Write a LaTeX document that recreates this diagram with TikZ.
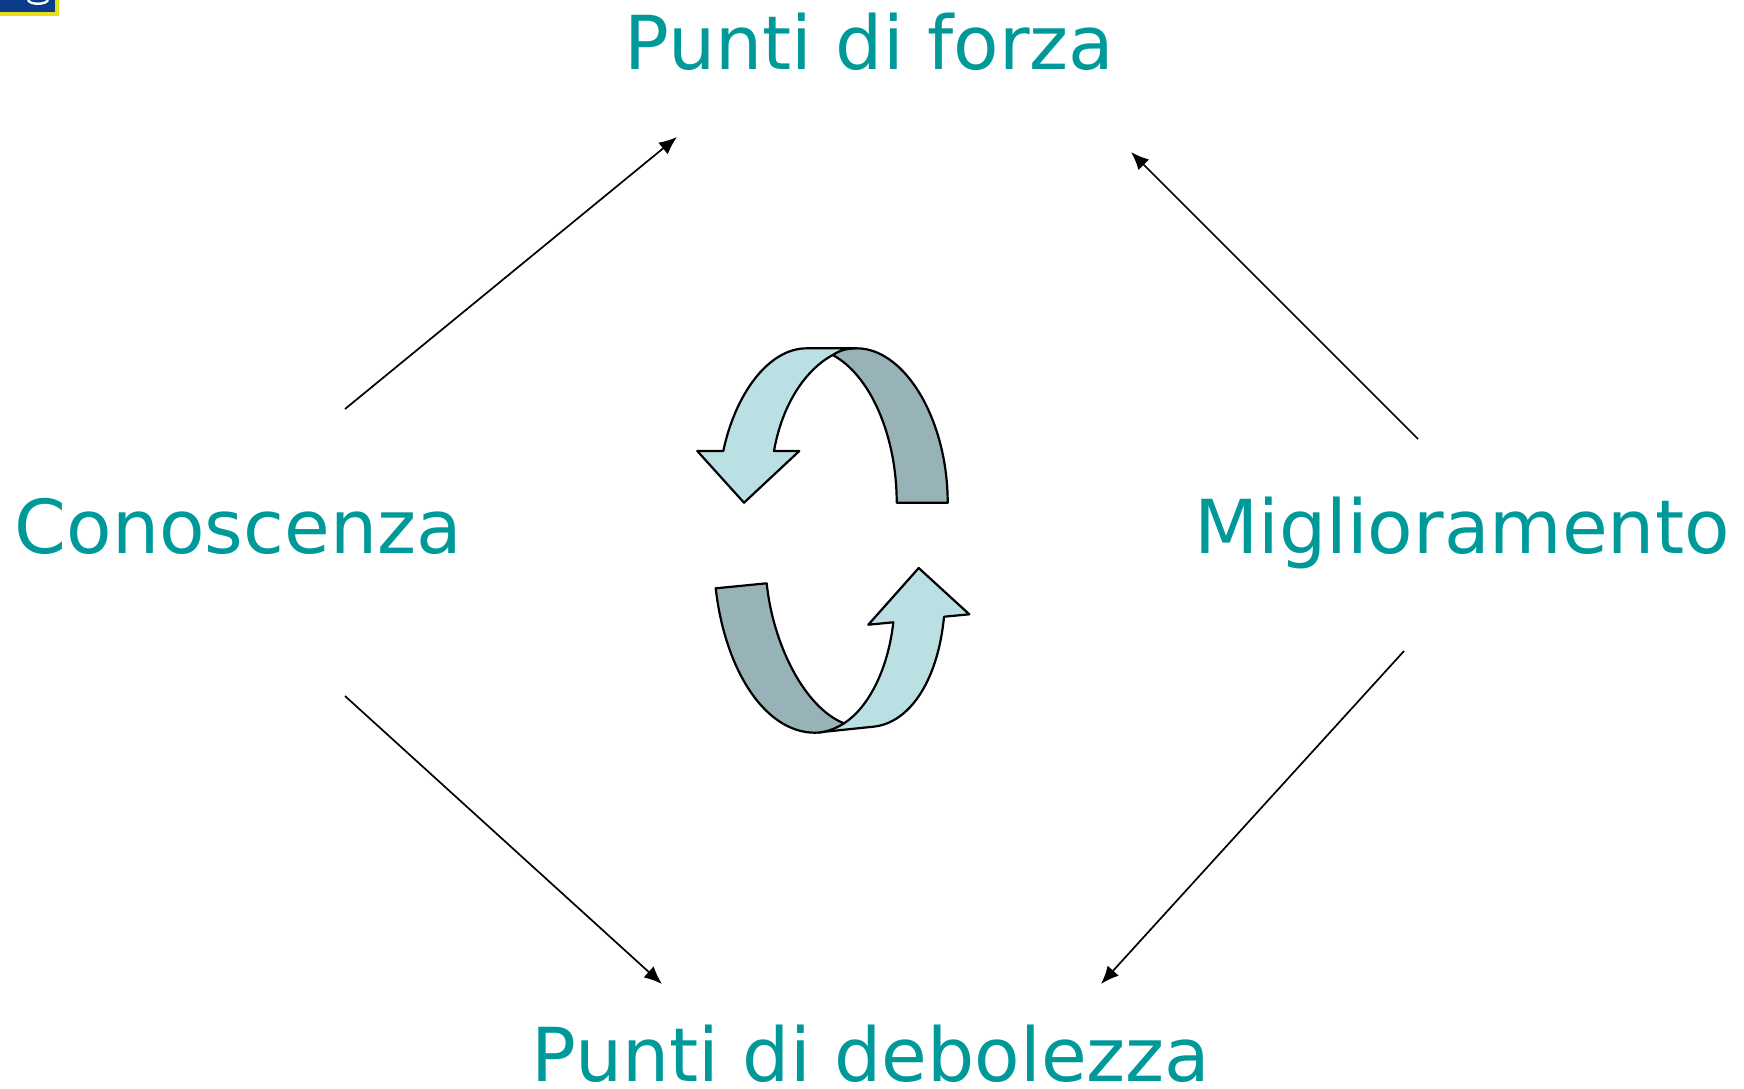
\documentclass[tikz,border=0pt]{standalone}
\usepackage{fontspec}
\setmainfont{DejaVu Sans}
\usetikzlibrary{arrows.meta}
\definecolor{tealtxt}{HTML}{009999}
\definecolor{lightband}{HTML}{BAE0E3}
\definecolor{darkband}{HTML}{98B3B7}
\definecolor{logoblue}{HTML}{0B3C8C}
\tikzset{
  label text/.style={text=tealtxt,font=\fontsize{37.2}{42}\selectfont,anchor=base,inner sep=0pt},
  conn/.style={draw=black,line width=0.85pt,-{Latex[length=9pt,width=7.5pt]}},
  band/.style={draw=black,line width=1.1pt,line join=round}
}
\begin{document}
\begin{tikzpicture}[x=0.5pt,y=-0.5pt]
\useasboundingbox (0,0) rectangle (1744,1088);
% logo corner
\fill[yellow!90!black] (0,0) rectangle (59,16);
\fill[logoblue] (0,0) rectangle (55,12);
\draw[white,line width=1.2pt] (28,0) .. controls (30,5) and (46,5) .. (48,0);
% labels
\node[label text] (forza) at (869.5,69) {Punti di forza};
\node[label text] (debo) at (871,1081) {Punti di debolezza};
\node[label text] (cono) at (238.5,553) {Conoscenza};
\node[label text] (migl) at (1462,553) {Miglioramento};
% connector ends
\coordinate (a1) at (345,409); \coordinate (b1) at (677,137);
\coordinate (a2) at (1418,439); \coordinate (b2) at (1131,152);
\coordinate (a3) at (345,696); \coordinate (b3) at (662,984);
\coordinate (a4) at (1404,651); \coordinate (b4) at (1101,984);
\draw[conn] (a1) -- (b1);
\draw[conn] (a2) -- (b2);
\draw[conn] (a3) -- (b3);
\draw[conn] (a4) -- (b4);
% upper circular arrow
\draw[band,fill=darkband] (832.7,355) .. controls (842,348.3) and (848,348.3) .. (856.7,348.3)
  .. controls (905,348.3) and (947.7,420) .. (947.7,502.7)
  -- (896.7,502.7)
  .. controls (896.7,435) and (870,375) .. (832.7,355) -- cycle;
\draw[band,fill=lightband] (806.7,348.3) -- (856.7,348.3)
  .. controls (848,348.3) and (840,350) .. (832.7,355)
  .. controls (805,370) and (782,405) .. (774,451)
  -- (799.3,451) -- (744,502.7) -- (697.3,451) -- (723.3,451)
  .. controls (735,395) and (768,348.3) .. (806.7,348.3) -- cycle;
% lower circular arrow
\draw[band,fill=lightband] (818,732.4) -- (873.3,726.7)
  .. controls (910,723) and (938,680) .. (944,616.7)
  -- (969.3,614.3) -- (918.7,568) -- (868.3,624.7) -- (893.3,622.3)
  .. controls (888,670) and (868,708) .. (844,723.3) -- cycle;
\draw[band,fill=darkband] (715.7,588.3) -- (766.7,583.3)
  .. controls (773,645) and (805,708) .. (844,723.3)
  .. controls (835,729) and (825,732.7) .. (815,732.7)
  .. controls (765,732.7) and (725,670) .. (715.7,588.3) -- cycle;
\end{tikzpicture}
\end{document}
